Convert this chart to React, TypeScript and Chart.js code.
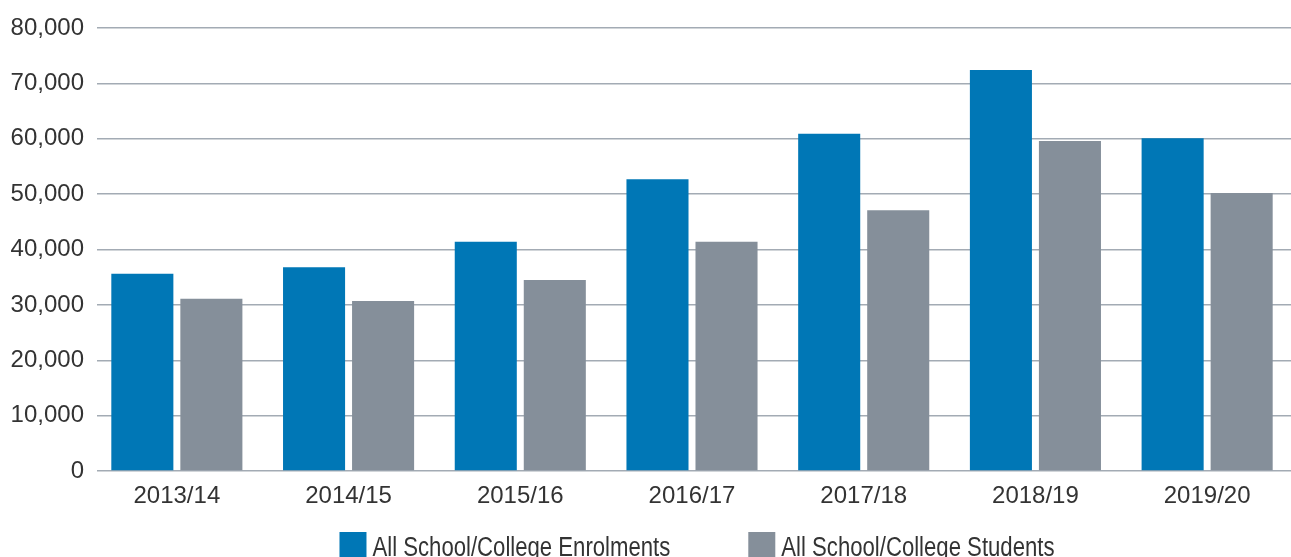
import React, { useEffect, useRef } from "react";
import { Chart, registerables } from "chart.js";

Chart.register(...registerables);

const categories = ["2013/14", "2014/15", "2015/16", "2016/17", "2017/18", "2018/19", "2019/20"];
const enrolments = [35600, 36800, 41400, 52700, 60900, 72400, 60100];
const students = [31100, 30700, 34500, 41400, 47100, 59600, 50200];
const seriesNames = ["All School/College Enrolments", "All School/College Students"];
const yMax = 80000;
const yStep = 10000;

const BLUE = "#0077b6";
const GREY = "#858f9a";
const TEXT = "#333333";
const GRID = "#a3abb4";
const FONT = "'Liberation Sans', Arial, sans-serif";
const LEGEND_FONT = "27px 'Liberation Sans', Arial, sans-serif";
const LEGEND_CONDENSE = 0.82;

const gridTrim = {
  id: "gridTrim",
  beforeDatasetsDraw(chart: any) {
    const { ctx, chartArea } = chart;
    ctx.save();
    ctx.fillStyle = "#ffffff";
    ctx.fillRect(chartArea.left - 2, chartArea.top - 3, 97 - chartArea.left + 2, chartArea.bottom - chartArea.top + 6);
    ctx.restore();
  },
};

const customLegend = {
  id: "customLegend",
  afterDraw(chart: any) {
    const { ctx, chartArea } = chart;
    const box = 27;
    const boxGap = 6;
    const itemGap = 78;
    ctx.save();
    ctx.font = LEGEND_FONT;
    const items = chart.data.datasets.map((d: any) => {
      const tw = ctx.measureText(d.label).width * LEGEND_CONDENSE;
      return { label: d.label as string, color: d.backgroundColor as string, tw, w: box + boxGap + tw };
    });
    const total = items.reduce((s: number, it: any) => s + it.w, 0) + itemGap * (items.length - 1);
    let x = (chartArea.left + chartArea.right) / 2 + 5 - total / 2;
    const top = chartArea.bottom + 61;
    for (const it of items) {
      ctx.fillStyle = it.color;
      ctx.fillRect(x, top, box, box);
      ctx.fillStyle = TEXT;
      ctx.textBaseline = "alphabetic";
      ctx.textAlign = "left";
      ctx.fillText(it.label, x + box + boxGap, top + 24, it.tw);
      x += it.w + itemGap;
    }
    ctx.restore();
  },
};

export default function App() {
  const ref = useRef<HTMLCanvasElement | null>(null);

  useEffect(() => {
    document.body.style.margin = "0";
    const canvas = ref.current;
    if (!canvas) return;
    const chart = new Chart(canvas, {
      type: "bar",
      data: {
        labels: categories,
        datasets: [
          { label: seriesNames[0], data: enrolments, backgroundColor: BLUE, borderWidth: 0 },
          { label: seriesNames[1], data: students, backgroundColor: GREY, borderWidth: 0 },
        ],
      },
      plugins: [gridTrim, customLegend],
      options: {
        responsive: false,
        animation: false,
        devicePixelRatio: 1,
        categoryPercentage: 0.804,
        barPercentage: 0.899,
        layout: { padding: { left: 0, right: 7, top: 28, bottom: 35 } },
        plugins: {
          tooltip: { enabled: false },
          legend: { display: false },
        },
        scales: {
          x: {
            grid: { display: false, drawTicks: false },
            border: { display: false },
            ticks: { color: TEXT, padding: 11, font: { family: FONT, size: 24 } },
            afterFit: (s: any) => { s.height = 51; },
          },
          y: {
            min: 0,
            max: yMax,
            grid: { color: GRID, lineWidth: 1.5, drawTicks: false },
            border: { display: false },
            ticks: {
              stepSize: yStep,
              color: TEXT,
              padding: 7,
              font: { family: FONT, size: 24 },
              callback: (v: any) => Number(v).toLocaleString("en-US"),
            },
            afterFit: (s: any) => { s.width = 91; },
          },
        },
      },
    });
    return () => chart.destroy();
  }, []);

  return (
    <div style={{ position: "fixed", left: 0, top: 0, width: 1291, height: 557, overflow: "hidden", background: "#fff" }}>
      <canvas ref={ref} width={1300} height={557} style={{ display: "block", width: 1300, height: 557 }} />
    </div>
  );
}
